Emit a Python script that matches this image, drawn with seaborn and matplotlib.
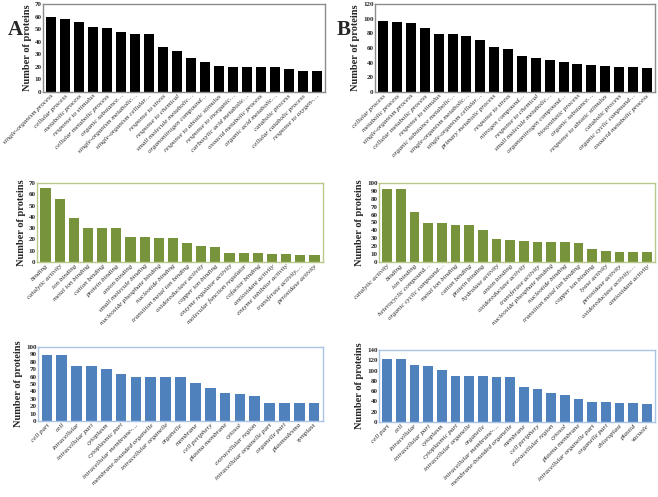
import matplotlib
matplotlib.use("Agg")
import matplotlib.pyplot as plt
import seaborn as sns
import pandas as pd

# Biological process
bp_a_labels = ["single-organism process", "cellular process", "metabolic process", "response to stimulus",
               "cellular metabolic process", "organic substance…", "single-organism metabolic…",
               "single-organism cellular…", "response to stress", "response to chemical",
               "small molecule metabolic…", "organonitrogen compound…", "response to abiotic stimulus",
               "response to inorganic…", "carboxylic acid metabolic…", "oxoacid metabolic process",
               "organic acid metabolic…", "catabolic process", "cellular catabolic process",
               "response to oxygen-…"]
bp_a_values = [60, 58, 56, 52, 51, 48, 46, 46, 36, 33, 27, 24, 21, 20, 20, 20, 20, 18, 17, 17]

bp_b_labels = ["cellular process", "metabolic process", "single-organism process", "cellular metabolic process",
               "response to stimulus", "organic substance metabolic…", "single-organism metabolic…",
               "single-organism cellular…", "primary metabolic process", "response to stress",
               "nitrogen compound…", "response to chemical", "small molecule metabolic…",
               "organonitrogen compound…", "biosynthetic process", "organic substance…",
               "response to abiotic stimulus", "catabolic process", "organic cyclic compound…",
               "oxoacid metabolic process"]
bp_b_values = [97, 95, 94, 87, 79, 79, 77, 71, 61, 59, 49, 47, 43, 41, 38, 37, 35, 34, 34, 33]

# Molecular function
mf_a_labels = ["binding", "catalytic activity", "ion binding", "metal ion binding", "cation binding",
               "protein binding", "anion binding", "small molecule binding", "nucleoside phosphate binding",
               "nucleotide binding", "transition metal ion binding", "oxidoreductase activity",
               "copper ion binding", "enzyme regulator activity", "molecular function regulator",
               "cofactor binding", "antioxidant activity", "enzyme inhibitor activity",
               "transferase activity,…", "peroxidase activity"]
mf_a_values = [66, 56, 39, 30, 30, 30, 22, 22, 21, 21, 17, 14, 13, 8, 8, 8, 7, 7, 6, 6]

mf_b_labels = ["catalytic activity", "binding", "ion binding", "heterocyclic compound…",
               "organic cyclic compound…", "metal ion binding", "cation binding", "protein binding",
               "hydrolase activity", "anion binding", "oxidoreductase activity", "transferase activity",
               "nucleoside phosphate binding", "nucleotide binding", "transition metal ion binding",
               "copper ion binding", "lyase activity", "peroxidase activity", "oxidoreductase activity,…",
               "antioxidant activity"]
mf_b_values = [93, 92, 63, 50, 50, 47, 47, 40, 29, 28, 26, 25, 25, 25, 24, 17, 14, 13, 13, 13]

# Cellular component
cc_a_labels = ["cell part", "cell", "intracellular", "intracellular part", "cytoplasm", "cytoplasmic part",
               "intracellular membrane-…", "membrane-bounded organelle", "intracellular organelle",
               "organelle", "membrane", "cell periphery", "plasma membrane", "cytosol",
               "extracellular region", "intracellular organelle part", "organelle part",
               "plasmodesma", "symplast"]
cc_a_values = [89, 89, 75, 74, 70, 64, 60, 60, 60, 60, 52, 45, 38, 36, 34, 25, 25, 24, 24]

cc_b_labels = ["cell part", "cell", "intracellular", "intracellular part", "cytoplasm", "cytoplasmic part",
               "intracellular organelle", "organelle", "intracellular membrane-…",
               "membrane-bounded organelle", "membrane", "cell periphery", "extracellular region",
               "cytosol", "plasma membrane", "intracellular organelle part", "organelle part",
               "chloroplast", "plastid", "vacuole"]
cc_b_values = [122, 122, 110, 108, 102, 90, 89, 89, 88, 88, 69, 64, 56, 52, 45, 38, 38, 36, 36, 35]

sns.set_style("white")
plt.rcParams['font.family'] = ['Liberation Serif', 'DejaVu Serif']


def draw(ax, labels, values, color, frame, ymax, step):
    df = pd.DataFrame({"term": labels, "count": values})
    sns.barplot(data=df, x="term", y="count", color=color, width=0.72,
                saturation=1, ax=ax, edgecolor="none")
    ax.set_ylim(0, ymax)
    ax.set_yticks(range(0, ymax + 1, step))
    ax.set_xlim(-0.6, len(labels) - 0.4)
    ax.set_xlabel("")
    ax.set_ylabel("Number of proteins", fontsize=7.5, fontweight="bold", labelpad=2)
    ax.tick_params(axis="y", labelsize=5, pad=1, length=0)
    ax.tick_params(axis="x", labelsize=5, pad=1, length=0)
    for t in ax.get_yticklabels():
        t.set_fontweight("bold")
    ax.set_xticks(range(len(labels)))
    ax.set_xticklabels(labels, rotation=45, ha="right", rotation_mode="anchor", fontstyle="italic")
    for s in ax.spines.values():
        s.set_visible(True)
        s.set_color(frame)
        s.set_linewidth(1.0)


fig = plt.figure(figsize=(6.58, 4.97), dpi=100)

W, H = 658, 497


def rect(x0, x1, y0, y1):
    return [x0 / W, 1 - y1 / H, (x1 - x0) / W, (y1 - y0) / H]


ax1 = fig.add_axes(rect(43, 325, 4, 92))
ax2 = fig.add_axes(rect(375, 655, 4, 92))
ax3 = fig.add_axes(rect(37, 323, 183, 262))
ax4 = fig.add_axes(rect(379, 655, 183, 262))
ax5 = fig.add_axes(rect(38, 323, 347, 421))
ax6 = fig.add_axes(rect(379, 655, 350, 422))

draw(ax1, bp_a_labels, bp_a_values, "black", "#8c8c8c", 70, 10)
draw(ax2, bp_b_labels, bp_b_values, "black", "#8c8c8c", 120, 20)
draw(ax3, mf_a_labels, mf_a_values, "#77933c", "#b9c98a", 70, 10)
draw(ax4, mf_b_labels, mf_b_values, "#77933c", "#b9c98a", 100, 10)
draw(ax5, cc_a_labels, cc_a_values, "#4f81bd", "#a9c4e4", 100, 10)
draw(ax6, cc_b_labels, cc_b_values, "#4f81bd", "#a9c4e4", 140, 20)

fig.text(8 / W, 1 - 35 / H, "A", fontsize=15, fontweight="bold", ha="left", va="baseline")
fig.text(337 / W, 1 - 35 / H, "B", fontsize=15, fontweight="bold", ha="left", va="baseline")

fig.savefig("out.png", dpi=100)
